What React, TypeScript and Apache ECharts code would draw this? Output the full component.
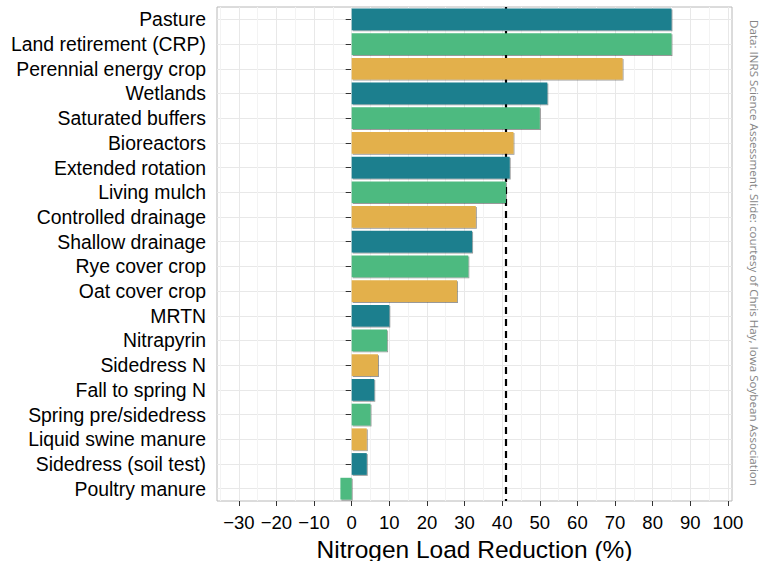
import React, { useEffect, useRef } from "react";
import * as echarts from "echarts";

const categories = [
  "Pasture",
  "Land retirement (CRP)",
  "Perennial energy crop",
  "Wetlands",
  "Saturated buffers",
  "Bioreactors",
  "Extended rotation",
  "Living mulch",
  "Controlled drainage",
  "Shallow drainage",
  "Rye cover crop",
  "Oat cover crop",
  "MRTN",
  "Nitrapyrin",
  "Sidedress N",
  "Fall to spring N",
  "Spring pre/sidedress",
  "Liquid swine manure",
  "Sidedress (soil test)",
  "Poultry manure",
];

const reductions = [85, 85, 72, 52, 50, 43, 42, 41, 33, 32, 31, 28, 10, 9.4, 7, 6, 5, 4, 4, -3];

const xTicks = [-30, -20, -10, 0, 10, 20, 30, 40, 50, 60, 70, 80, 90, 100];
const xMinorTicks = [-35, -25, -15, -5, 5, 15, 25, 35, 45, 55, 65, 75, 85, 95];

const targetLine = 41;

const palette = ["#1D7F8E", "#4EBA80", "#E3B04B"];

const sourceNote =
  "Data: INRS Science Assessment, Slide: courtesy of Chris Hay, Iowa Soybean Association";

export default function App() {
  const ref = useRef<HTMLDivElement>(null);

  useEffect(() => {
    if (!ref.current) return;
    const chart = echarts.init(ref.current, undefined, { renderer: "svg" });
    const xMin = -35.8;
    const xMax = 101.1;
    const font = "'Liberation Sans', Arial, Helvetica, sans-serif";
    chart.setOption({
      animation: false,
      backgroundColor: "#ffffff",
      grid: {
        left: 217,
        right: 28,
        top: 7,
        bottom: 60,
        show: true,
        borderColor: "#b8b8b8",
        borderWidth: 1,
        backgroundColor: "transparent",
        containLabel: false,
        outerBoundsMode: "none",
      },
      xAxis: [
        {
          type: "value",
          min: xMin,
          max: xMax,
          name: "Nitrogen Load Reduction (%)",
          nameLocation: "middle",
          nameGap: 30,
          nameTextStyle: { fontFamily: font, fontSize: 24.5, color: "#000" },
          axisLine: { show: false },
          axisTick: {
            show: true,
            length: 5,
            lineStyle: { color: "#333", width: 1 },
            customValues: xTicks,
          },
          axisLabel: {
            customValues: xTicks,
            fontFamily: font,
            fontSize: 18.5,
            color: "#000",
            margin: 12,
            formatter: (v: number) => (v < 0 ? "\u2212" + Math.abs(v) : String(v)),
          },
          splitLine: { show: true, lineStyle: { color: "#e8e8e8", width: 1 } },
          z: 1,
        },
        {
          type: "value",
          min: xMin,
          max: xMax,
          position: "bottom",
          axisLine: { show: false },
          axisTick: { show: false, customValues: xMinorTicks },
          axisLabel: { show: false, customValues: xMinorTicks },
          splitLine: { show: true, lineStyle: { color: "#f3f3f3", width: 1 } },
          z: 0,
        },
      ],
      yAxis: {
        type: "category",
        data: categories,
        inverse: true,
        axisLine: { show: false },
        axisTick: {
          show: true,
          alignWithLabel: true,
          length: 6,
          lineStyle: { color: "#333", width: 1 },
        },
        axisLabel: {
          interval: 0,
          fontFamily: font,
          fontSize: 19.4,
          color: "#000",
          margin: 11,
        },
        splitLine: {
          show: true,
          alignWithLabel: true,
          lineStyle: { color: "#e8e8e8", width: 1 },
        },
      },
      series: [
        {
          type: "bar",
          xAxisIndex: 0,
          data: reductions.map((v, i) => ({
            value: v,
            itemStyle: { color: palette[i % 3] },
          })),
          barWidth: "88%",
          itemStyle: {
            shadowColor: "rgba(0,0,0,0.4)",
            shadowBlur: 1,
            shadowOffsetX: 1,
            shadowOffsetY: 1,
          },
          z: 3,
          markLine: {
            silent: true,
            symbol: "none",
            z: 1,
            label: { show: false },
            lineStyle: { color: "#000", type: [7, 5], width: 2.2 },
            data: [{ xAxis: targetLine }],
          },
        },
      ],
      graphic: [
        {
          type: "text",
          x: 754,
          y: 253,
          rotation: -Math.PI / 2,
          style: {
            text: sourceNote,
            fontFamily: "'Open Sans', sans-serif",
            fontSize: 11.6,
            fill: "#858585",
            align: "center",
            verticalAlign: "middle",
          },
        },
      ],
    });
    return () => chart.dispose();
  }, []);

  return (
    <div
      ref={ref}
      style={{ position: "fixed", left: 0, top: 0, width: 760, height: 561 }}
    />
  );
}
